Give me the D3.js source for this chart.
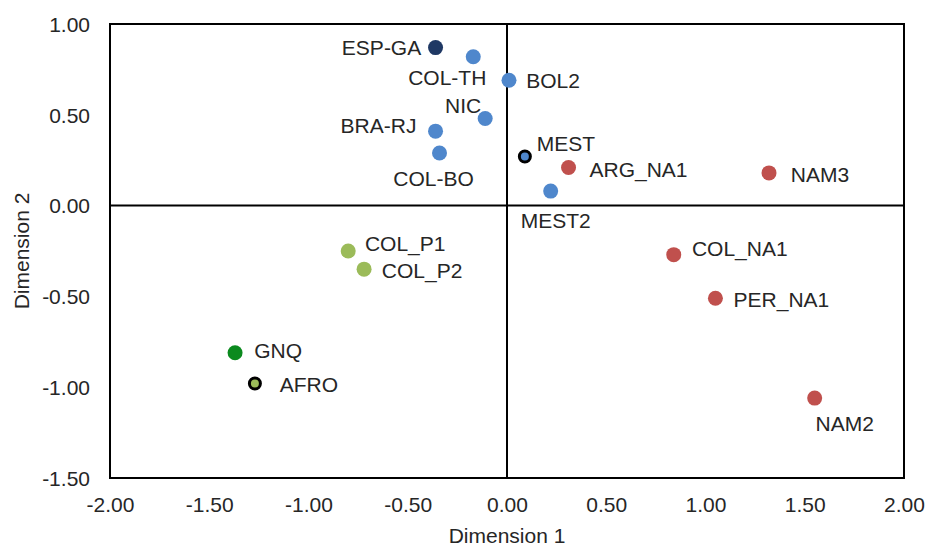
<!DOCTYPE html>
<html>
<head>
<meta charset="utf-8">
<script src="https://cdn.jsdelivr.net/npm/d3@7"></script>
<style>
  body { margin: 0; background: #fff; }
  svg text { font-family: "Liberation Sans", Arial, sans-serif; fill: #262626; }
</style>
</head>
<body>
<div id="chart"></div>
<script>
// data
const names = ["ESP-GA", "COL-TH", "BOL2", "NIC", "BRA-RJ", "COL-BO", "MEST", "ARG_NA1", "MEST2",
  "NAM3", "COL_P1", "COL_P2", "COL_NA1", "PER_NA1", "GNQ", "AFRO", "NAM2"];
const dim1 = [-0.36, -0.17, 0.01, -0.11, -0.36, -0.34, 0.09, 0.31, 0.22,
  1.32, -0.80, -0.72, 0.84, 1.05, -1.37, -1.27, 1.55];
const dim2 = [0.87, 0.82, 0.69, 0.48, 0.41, 0.29, 0.27, 0.21, 0.08,
  0.18, -0.25, -0.35, -0.27, -0.51, -0.81, -0.98, -1.06];
const groups = ["esp", "blue", "blue", "blue", "blue", "blue", "mest", "red", "blue",
  "red", "lgreen", "lgreen", "red", "red", "green", "afro", "red"];
const xTicks = [-2, -1.5, -1, -0.5, 0, 0.5, 1, 1.5, 2];
const yTicks = [-1.5, -1, -0.5, 0, 0.5, 1];

// label offsets from the point (text centre)
const labelDx = [-54, -26, 44, -22, -57, -6, 41, 70, 5, 51, 57, 58, 66, 66, 43, 54, 30];
const labelDy = [0, 21, 0, -13, -5, 26, -13, 2, 30, 2, -7, 1, -6, 1, -2, 1, 26];

const fill = { esp: "#1f3864", blue: "#4f87cc", mest: "#4f87cc", red: "#c0504d",
  lgreen: "#9bbb59", green: "#0b8a1e", afro: "#9bbb59" };

const W = 927, H = 547;
const margin = { top: 24, right: 23, bottom: 69, left: 110 };
const width = W - margin.left - margin.right;
const height = H - margin.top - margin.bottom;
const fs = 21;
const fmt = v => d3.format(".2f")(v).replace("\u2212", "-");

const svg = d3.select("#chart").append("svg")
  .attr("width", W).attr("height", H);
const g = svg.append("g")
  .attr("transform", "translate(" + margin.left + "," + margin.top + ")");

const x = d3.scaleLinear().domain([-2, 2]).range([0, width]);
const y = d3.scaleLinear().domain([-1.5, 1]).range([height, 0]);

// frame
g.append("rect")
  .attr("width", width).attr("height", height)
  .attr("fill", "none").attr("stroke", "#000").attr("stroke-width", 2);

// axes through zero
g.append("line")
  .attr("x1", 0).attr("x2", width).attr("y1", y(0)).attr("y2", y(0))
  .attr("stroke", "#000").attr("stroke-width", 2);
g.append("line")
  .attr("x1", x(0)).attr("x2", x(0)).attr("y1", 0).attr("y2", height)
  .attr("stroke", "#000").attr("stroke-width", 2);

// tick labels
const xAxis = g.append("g")
  .attr("transform", "translate(0," + height + ")")
  .call(d3.axisBottom(x).tickValues(xTicks).tickFormat(fmt).tickSize(0).tickPadding(19));
const yAxis = g.append("g")
  .call(d3.axisLeft(y).tickValues(yTicks).tickFormat(fmt).tickSize(0).tickPadding(20));
[xAxis, yAxis].forEach(a => {
  a.select(".domain").remove();
  a.selectAll("text").attr("font-size", fs).attr("font-family", "Liberation Sans, Arial, sans-serif").attr("fill", "#262626");
});
yAxis.selectAll("text").attr("dy", "0.35em");

// axis titles
svg.append("text")
  .attr("x", margin.left + width / 2).attr("y", H - 4)
  .attr("text-anchor", "middle").attr("font-size", fs)
  .text("Dimension 1");
svg.append("text")
  .attr("transform", "translate(29," + (margin.top + height / 2) + ")rotate(-90)")
  .attr("text-anchor", "middle").attr("font-size", fs)
  .text("Dimension 2");

const pts = names.map((n, i) => ({ n, x: dim1[i], y: dim2[i], grp: groups[i], dx: labelDx[i], dy: labelDy[i] }));

// markers
g.selectAll(".pt")
  .data(pts)
  .enter()
  .append("circle")
  .attr("class", "pt")
  .attr("cx", d => x(d.x))
  .attr("cy", d => y(d.y))
  .attr("r", d => (d.grp === "mest" || d.grp === "afro") ? 5.5 : 7.5)
  .attr("fill", d => fill[d.grp])
  .attr("stroke", d => (d.grp === "mest" || d.grp === "afro") ? "#000" : "none")
  .attr("stroke-width", 3);

// labels
g.selectAll(".lbl")
  .data(pts)
  .enter()
  .append("text")
  .attr("class", "lbl")
  .attr("x", d => x(d.x) + d.dx)
  .attr("y", d => y(d.y) + d.dy)
  .attr("dy", "0.35em")
  .attr("text-anchor", "middle")
  .attr("font-size", fs)
  .text(d => d.n);
</script>
</body>
</html>
